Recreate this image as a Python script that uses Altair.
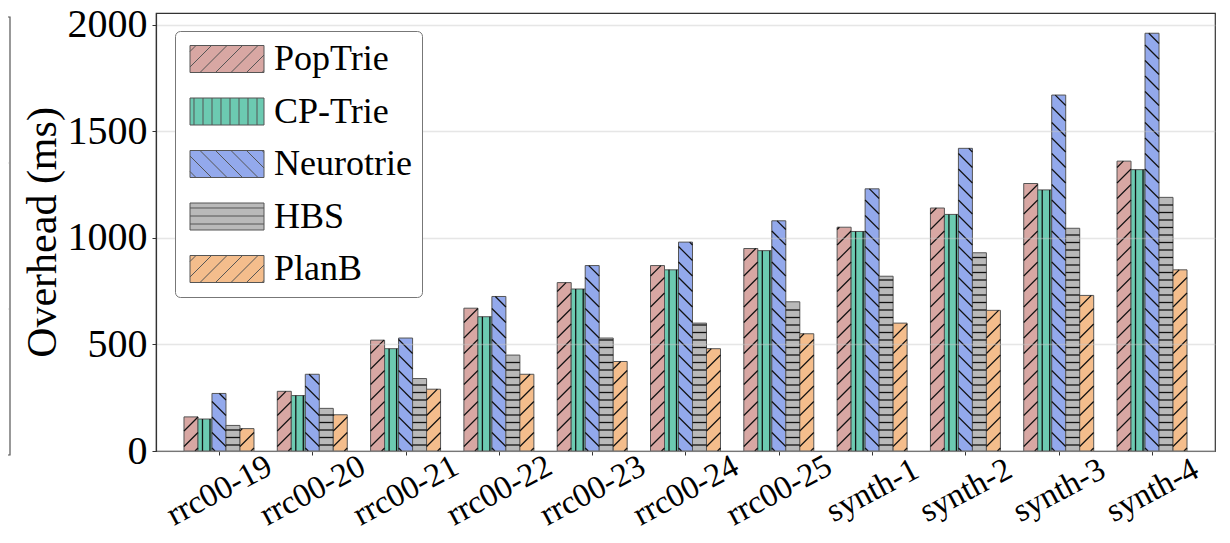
import json
import altair as alt
import pandas as pd

# ---------------- data ----------------
categories = ["rrc00-19", "rrc00-20", "rrc00-21", "rrc00-22", "rrc00-23", "rrc00-24",
              "rrc00-25", "synth-1", "synth-2", "synth-3", "synth-4"]
series_names = ["PopTrie", "CP-Trie", "Neurotrie", "HBS", "PlanB"]
poptrie = [160, 280, 520, 670, 790, 870, 950, 1050, 1140, 1255, 1360]
cptrie = [150, 260, 480, 630, 760, 850, 940, 1030, 1110, 1225, 1320]
neurotrie = [270, 360, 530, 725, 870, 980, 1080, 1230, 1420, 1670, 1960]
hbs = [120, 200, 340, 450, 530, 600, 700, 820, 930, 1045, 1190]
planb = [105, 170, 290, 360, 420, 480, 550, 600, 660, 730, 850]
y_ticks = [0, 500, 1000, 1500, 2000]

colors = ["#d8a7a3", "#6ccab1", "#93a9ec", "#b9b9b9", "#f4bd8c"]

rows = []
for j, vals in enumerate([poptrie, cptrie, neurotrie, hbs, planb]):
    for i, v in enumerate(vals):
        rows.append({"cat": categories[i], "i": i, "series": series_names[j], "j": j, "value": v})
df = pd.DataFrame(rows)

# ---------------- geometry / style ----------------
W, H = 1059, 438
XMIN, XMAX = -0.675, 10.675
YMAX = 2055
PXX = W / (XMAX - XMIN)
PXY = H / YMAX
BW = 0.15
WP = BW * PXX
SD = 15.5   # diagonal hatch spacing (px)
SL = 7.5    # straight hatch spacing (px)
FONT = "Liberation Serif"
HATCH = "#111111"

xscale = alt.Scale(domain=[XMIN, XMAX], nice=False, zero=False)
yscale = alt.Scale(domain=[0, YMAX], nice=False, zero=False)
cscale = alt.Scale(domain=series_names, range=colors)

# legend swatch shapes (rect + hatch) in Vega's normalized symbol space
R = 13.5
SWW, SWH = 74.0, 27.0
OFF = 0.5


def P(px, py):
    return f"{(px + OFF) / R - 1:.3f},{py / R - 1:.3f}"


def rect_path():
    return f"M{P(0,0)}L{P(SWW,0)}L{P(SWW,SWH)}L{P(0,SWH)}Z"


def fwd_path(step):
    s = ""
    c = 6.0
    while c < SWW + SWH:
        x1, x2 = max(0.0, c - SWH), min(SWW, c)
        s += f"M{P(x1, c - x1)}L{P(x2, c - x2)}"
        c += step
    return s


def back_path(step):
    s = ""
    c = -SWH + 6.0
    while c < SWW:
        x1, x2 = max(0.0, c), min(SWW, c + SWH)
        s += f"M{P(x1, x1 - c)}L{P(x2, x2 - c)}"
        c += step
    return s


def vert_path(step):
    s = ""
    x = 4.0
    while x < SWW:
        s += f"M{P(x, 0)}L{P(x, SWH)}"
        x += step
    return s


def horiz_path(step):
    s = ""
    y = 5.0
    while y < SWH:
        s += f"M{P(0, y)}L{P(SWW, y)}"
        y += step
    return s


shapes = [
    rect_path() + fwd_path(SD),
    rect_path() + vert_path(9.0),
    rect_path() + back_path(SD),
    rect_path() + horiz_path(8.0),
    rect_path() + fwd_path(SD),
]
sscale = alt.Scale(domain=series_names, range=shapes)

xaxis = alt.Axis(
    values=list(range(len(categories))),
    labelExpr=f"{json.dumps(categories)}[datum.value]",
    labelAngle=-28, labelAlign="center", labelBaseline="middle",
    labelPadding=35, tickSize=4, labelFontSize=33, labelFont=FONT,
    labelOverlap=False, labelFlush=False, grid=False, title=None,
)
yaxis = alt.Axis(
    values=y_ticks, format="d", title="Overhead (ms)", titleFont=FONT, titleFontSize=42,
    titleFontWeight="normal", titleX=-114, titleY=H / 2, titleAlign="center",
    titleBaseline="middle", labelFont=FONT, labelFontSize=40, labelPadding=5,
    tickSize=4, grid=True, gridColor="#c8c8c8", gridOpacity=0.45, gridWidth=1.5,
    labelFlush=False, zindex=1,
)


def X(field):
    return alt.X(field, scale=xscale, axis=xaxis)


def Y(field):
    return alt.Y(field, scale=yscale, axis=yaxis)


base = alt.Chart(df).transform_calculate(
    x0=f"datum.i + (datum.j - 2) * {BW} - {BW / 2}",
    x1=f"datum.i + (datum.j - 2) * {BW} + {BW / 2}",
    hp=f"datum.value * {PXY}",
)

bars = base.mark_bar(stroke="#555555", strokeWidth=1).encode(
    x=X("x0:Q"), x2="x1:Q",
    y=Y("value:Q"), y2=alt.datum(0),
    color=alt.Color("series:N", scale=cscale),
)

# '/' hatch
h_fwd = base.transform_filter("datum.j == 0 || datum.j == 4").transform_calculate(
    b=f"sequence({-WP + 3}, datum.hp, {SD})"
).transform_flatten(["b"]).transform_calculate(
    xs="max(0, -datum.b)", xe=f"min({WP}, datum.hp - datum.b)"
).transform_filter("datum.xe - datum.xs > 0.3").transform_calculate(
    hx1=f"datum.x0 + datum.xs / {PXX}", hx2=f"datum.x0 + datum.xe / {PXX}",
    hy1=f"(datum.xs + datum.b) / {PXY}", hy2=f"(datum.xe + datum.b) / {PXY}",
).mark_rule(color=HATCH, strokeWidth=1.2).encode(
    x=X("hx1:Q"), x2="hx2:Q", y=Y("hy1:Q"), y2="hy2:Q",
)

# '\' hatch
h_back = base.transform_filter("datum.j == 2").transform_calculate(
    b=f"sequence(3, datum.hp + {WP}, {SD})"
).transform_flatten(["b"]).transform_calculate(
    xs="max(0, datum.b - datum.hp)", xe=f"min({WP}, datum.b)"
).transform_filter("datum.xe - datum.xs > 0.3").transform_calculate(
    hx1=f"datum.x0 + datum.xs / {PXX}", hx2=f"datum.x0 + datum.xe / {PXX}",
    hy1=f"(datum.b - datum.xs) / {PXY}", hy2=f"(datum.b - datum.xe) / {PXY}",
).mark_rule(color=HATCH, strokeWidth=1.2).encode(
    x=X("hx1:Q"), x2="hx2:Q", y=Y("hy1:Q"), y2="hy2:Q",
)

# '-' hatch
h_horiz = base.transform_filter("datum.j == 3").transform_calculate(
    b=f"sequence({SL * 0.8}, datum.hp - 1, {SL})"
).transform_flatten(["b"]).transform_calculate(
    hy=f"datum.b / {PXY}"
).mark_rule(color=HATCH, strokeWidth=1.3).encode(
    x=X("x0:Q"), x2="x1:Q", y=Y("hy:Q"),
)

# '|' hatch
h_vert = base.transform_filter("datum.j == 1").transform_calculate(
    b=f"sequence(4.5, {WP - 1}, {SL})"
).transform_flatten(["b"]).transform_calculate(
    hx=f"datum.x0 + datum.b / {PXX}"
).mark_rule(color=HATCH, strokeWidth=1.3).encode(
    x=X("hx:Q"), y=Y("value:Q"), y2=alt.datum(0),
)

leg = alt.Legend(
    orient="none", legendX=19, legendY=18, title=None,
    labelFont=FONT, labelFontSize=36, labelOffset=53, rowPadding=16.5,
    padding=10, cornerRadius=5, strokeColor="#777777", fillColor="white",
    symbolOpacity=1, symbolStrokeColor="#333333", symbolStrokeWidth=1,
    symbolSize=729, labelLimit=0, zindex=2,
)

pts = alt.Chart(df).mark_point(filled=True, opacity=0, size=729).encode(
    x=X("i:Q"), y=Y("value:Q"),
    color=alt.Color("series:N", scale=cscale, legend=leg),
    shape=alt.Shape("series:N", scale=sscale, legend=leg),
)

# remnant of neighbouring panel at the far left
one = alt.Data(values=[{"k": 0}])
rem_box = alt.Chart(one).mark_rect(fillOpacity=0, stroke="#555555", strokeWidth=1.2).encode(
    x=alt.value(-175), x2=alt.value(-146), y=alt.value(4), y2=alt.value(442)
)
rem_g1 = alt.Chart(one).mark_rule(color="#e6e6e6", strokeWidth=1.5).encode(
    x=alt.value(-175), x2=alt.value(-147), y=alt.value(150)
)
rem_g2 = alt.Chart(one).mark_rule(color="#e6e6e6", strokeWidth=1.5).encode(
    x=alt.value(-175), x2=alt.value(-147), y=alt.value(296)
)

chart = alt.layer(rem_g1, rem_g2, rem_box, bars, h_fwd, h_back, h_horiz, h_vert, pts).properties(
    width=W, height=H,
    padding={"left": 148, "top": 5, "right": 7, "bottom": 84},
    autosize=alt.AutoSizeParams(type="none"),
).configure_view(
    stroke="#333333", strokeWidth=1.2
).configure_axis(
    domainColor="#333333", tickColor="#333333", labelColor="black", titleColor="black",
    domainWidth=1.2,
)

chart.save("out.html", embed_options={"renderer": "svg", "actions": False})
